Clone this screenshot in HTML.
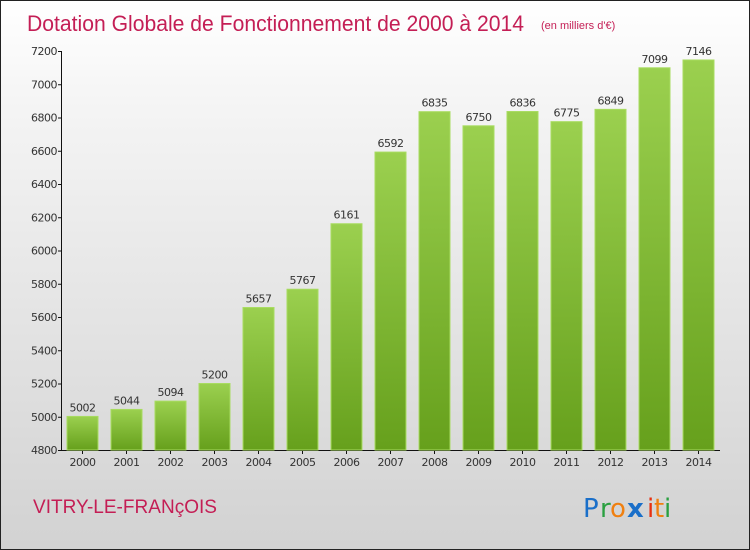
<!DOCTYPE html>
<html><head><meta charset="utf-8"><style>
body{margin:0}
#wrap{position:relative;width:748px;height:548px;border:1px solid #222;background:linear-gradient(#ffffff,#f4f4f4 20%,#d2d2d2);overflow:hidden;font-family:"DejaVu Sans","Liberation Sans",sans-serif}
</style></head><body>
<div id="wrap">
<svg id="chart" width="748" height="548" xmlns="http://www.w3.org/2000/svg">
<defs><linearGradient id="g" x1="0" y1="0" x2="0" y2="1"><stop offset="0" stop-color="#9bd04f"/><stop offset="1" stop-color="#66a01c"/></linearGradient></defs>
<text x="26" y="30" font-size="22" fill="#c41e55" font-family="'Liberation Sans',sans-serif" textLength="497" lengthAdjust="spacingAndGlyphs">Dotation Globale de Fonctionnement de 2000 à 2014</text>
<text x="540" y="28" font-size="11" fill="#c41e55" font-family="'Liberation Sans',sans-serif">(en milliers d'€)</text>
<g id="axes"></g><g id="bars"></g>
<text x="32" y="512" font-size="19" fill="#c41e55" font-family="'Liberation Sans',sans-serif" textLength="184" lengthAdjust="spacingAndGlyphs">VITRY-LE-FRANçOIS</text>
<g font-family="'DejaVu Sans',sans-serif" font-size="26">
<text x="582" y="516" fill="#1a6fc9">P</text><text x="599" y="516" fill="#2aa040">r</text><text x="609" y="516" fill="#f08010">o</text><text x="626" y="516" fill="#1a6fc9" font-weight="bold">x</text><text x="646" y="516" fill="#e83010">i</text><text x="653" y="516" fill="#f08010">t</text><text x="663" y="516" fill="#2aa040">i</text>
</g>
</svg>
</div>
<script>
const years=["2000","2001","2002","2003","2004","2005","2006","2007","2008","2009","2010","2011","2012","2013","2014"];
const values=[5002,5044,5094,5200,5657,5767,6161,6592,6835,6750,6836,6775,6849,7099,7146];
const ticks=[4800,5000,5200,5400,5600,5800,6000,6200,6400,6600,6800,7000,7200];
const NS="http://www.w3.org/2000/svg";
const y0=449,y1=50,vmin=4800,vmax=7200;
function ys(v){return y0-(v-vmin)/(vmax-vmin)*(y0-y1);}
function xs(i){return 81.5+i*44;}
function mk(t,a,p){const e=document.createElementNS(NS,t);for(const k in a)e.setAttribute(k,a[k]);p.appendChild(e);return e;}
const ax=document.getElementById('axes'),bg=document.getElementById('bars');
const yl=mk('line',{x1:60.5,x2:60.5,y1:y1,y2:y0,stroke:'#111'},ax);


const xl=mk('line',{x1:60,x2:719,y1:y0+0.5,y2:y0+0.5,stroke:'#111'},ax);


ticks.forEach(t=>{const y=ys(t);
mk('line',{x1:57,x2:61,y1:y+0.5,y2:y+0.5,stroke:'#111'},ax);
const tx=mk('text',{x:56,y:y+4,'font-size':11,fill:'#333','text-anchor':'end','letter-spacing':'-0.5'},ax);tx.textContent=t;

});
values.forEach((v,i)=>{const x=xs(i),y=ys(v);
const r=mk('rect',{x:x-15.5,y:y,width:31,height:y0-y,fill:'url(#g)',stroke:'#a8dc60','stroke-width':1},bg);


const l=mk('text',{x:x,y:y-5,'font-size':11,fill:'#333','text-anchor':'middle','letter-spacing':'-0.5'},bg);l.textContent=v;


mk('line',{x1:x,x2:x,y1:y0,y2:y0+4,stroke:'#111'},ax);
const yt=mk('text',{x:x,y:y0+16,'font-size':11,fill:'#333','text-anchor':'middle','letter-spacing':'-0.5'},ax);yt.textContent=years[i];

});
</script>
</body></html>
